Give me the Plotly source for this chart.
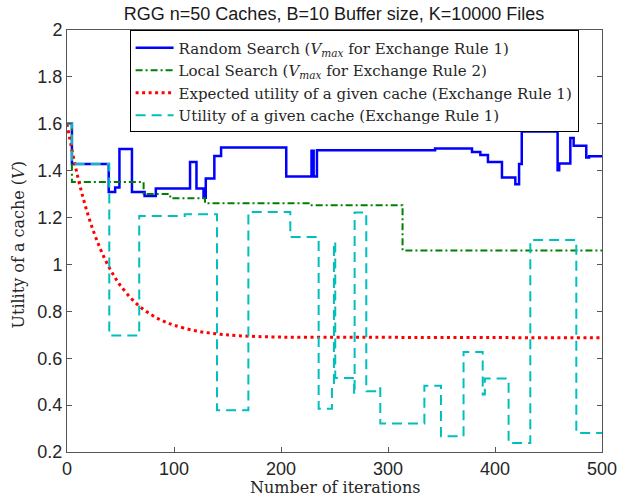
import plotly.graph_objects as go

# Random Search (V_max for Exchange Rule 1) - change points (step, hv)
rs_x = [0, 4.6, 39, 45, 49, 60.7, 72.5, 83, 115, 121, 127.6, 129.7, 137.7, 144, 204.9,
        228.5, 230.5, 233.6, 344, 378.5, 386.3, 393.4, 406.5, 419, 422.5, 425, 458.5,
        460, 470.4, 473.5, 485.3, 488, 500]
rs_y = [1.600, 1.428, 1.309, 1.328, 1.492, 1.309, 1.292, 1.324, 1.437, 1.324, 1.285,
        1.367, 1.463, 1.499, 1.375, 1.485, 1.375, 1.487, 1.495, 1.480, 1.467, 1.437,
        1.371, 1.342, 1.428, 1.567, 1.402, 1.431, 1.539, 1.506, 1.456, 1.462, 1.462]

# Local Search (V_max for Exchange Rule 2)
ls_x = [0, 4.6, 71.6, 96.5, 129, 225.8, 313.6, 500]
ls_y = [1.600, 1.352, 1.300, 1.282, 1.261, 1.253, 1.060, 1.060]

# Expected utility of a given cache (Exchange Rule 1)
eu_x = [0, 5, 10, 15, 20, 25, 30, 35, 40, 45, 50, 60, 70, 80, 90, 100, 120, 140,
        160, 200, 250, 300, 400, 500]
eu_y = [1.600, 1.480, 1.375, 1.285, 1.206, 1.138, 1.079, 1.027, 0.982, 0.943, 0.910,
        0.855, 0.813, 0.782, 0.758, 0.741, 0.717, 0.704, 0.696, 0.690, 0.689, 0.689,
        0.688, 0.687]

# Utility of a given cache (Exchange Rule 1)
uc_x = [0, 4.6, 39.5, 67.5, 110, 140.2, 169.5, 208.7, 235.2, 247.6, 249.5, 250.7,
        268.3, 268.8, 279.7, 290, 292.8, 334, 349.5, 370.6, 388.5, 390.5, 412.7,
        433, 476, 500]
uc_y = [1.600, 1.428, 0.697, 1.207, 1.214, 0.378, 1.224, 1.117, 0.384, 0.475, 1.096,
        0.516, 0.445, 1.222, 0.459, 0.472, 0.322, 0.483, 0.267, 0.627, 0.445, 0.513,
        0.238, 1.104, 0.281, 0.281]

x_ticks = [0, 100, 200, 300, 400, 500]
y_ticks = [0.2, 0.4, 0.6, 0.8, 1, 1.2, 1.4, 1.6, 1.8, 2]

title_text = "RGG n=50 Caches, B=10 Buffer size, K=10000 Files"
x_title = "Number of iterations"
y_title = "Utility of a cache (<i>V</i>)"
names = [
    "Random Search (<i>V</i><sub><i>max</i></sub> for Exchange Rule 1)",
    "Local Search (<i>V</i><sub><i>max</i></sub> for Exchange Rule 2)",
    "Expected utility of a given cache (Exchange Rule 1)",
    "Utility of a given cache (Exchange Rule 1)",
]

SERIF = "DejaVu Serif, serif"
SANS = "Liberation Sans, Arial, sans-serif"

fig = go.Figure()
fig.add_trace(go.Scatter(x=rs_x, y=rs_y, mode="lines", name=names[0],
                         line=dict(color="#0000FF", width=2.5, shape="hv")))
fig.add_trace(go.Scatter(x=ls_x, y=ls_y, mode="lines", name=names[1],
                         line=dict(color="#008000", width=2, shape="hv",
                                   dash="7px,3px,2px,3px")))
fig.add_trace(go.Scatter(x=eu_x, y=eu_y, mode="lines", name=names[2],
                         line=dict(color="#FF0000", width=3, shape="spline",
                                   dash="3px,3.5px")))
fig.add_trace(go.Scatter(x=uc_x, y=uc_y, mode="lines", name=names[3],
                         line=dict(color="#00BFBF", width=2, shape="hv",
                                   dash="10px,6px")))

axis_common = dict(
    showline=True, linecolor="#555555", linewidth=1, mirror="allticks",
    ticks="inside", ticklen=5, tickcolor="#555555", showgrid=False, zeroline=False,
    automargin=False,
    tickfont=dict(family=SANS, size=18, color="#262626"),
)

fig.update_layout(
    width=618, height=500,
    margin=dict(l=67, r=16, t=30, b=48),
    paper_bgcolor="white", plot_bgcolor="white",
    title=dict(text=title_text, x=0.5405, xanchor="center", y=0.972, yanchor="middle",
               font=dict(family=SANS, size=18, color="#1a1a1a")),
    xaxis=dict(range=[0, 500], tickvals=x_ticks, **axis_common),
    yaxis=dict(range=[0.2, 2], tickvals=y_ticks, **axis_common),
    showlegend=True,
    legend=dict(x=0.117, y=0.999, xanchor="left", yanchor="top",
                bgcolor="white", bordercolor="#000000", borderwidth=1,
                font=dict(family=SERIF, size=15, color="#262626"),
                tracegroupgap=0, itemwidth=38),
    annotations=[
        dict(text=x_title, xref="paper", yref="paper", x=0.5, y=-0.0853,
             xanchor="center", yanchor="middle", showarrow=False,
             font=dict(family=SERIF, size=16, color="#262626")),
        dict(text=y_title, xref="paper", yref="paper", x=-0.091, y=0.49,
             xanchor="center", yanchor="middle", showarrow=False, textangle=-90,
             font=dict(family=SERIF, size=16, color="#262626")),
    ],
)

fig.write_html("out.html",
               config={"displayModeBar": False},
               post_script="document.body.style.margin='0';document.body.style.padding='0';")
